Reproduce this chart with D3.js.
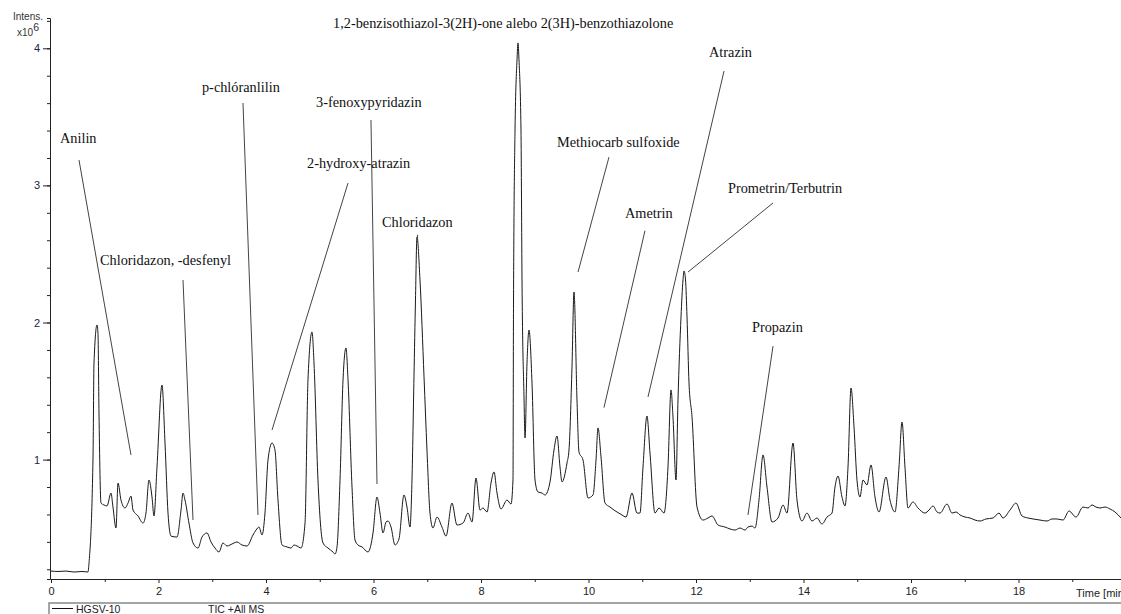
<!DOCTYPE html>
<html>
<head>
<meta charset="utf-8">
<script src="https://cdn.jsdelivr.net/npm/d3@7"></script>
<style>
body { margin: 0; background: #fff; }
svg { display: block; }
</style>
</head>
<body>
<svg id="chart" width="1121" height="614"></svg>
<script>
// TIC trace (time in min, intensity in 1e6)
const time = [
  0, 0.130, 0.279, 0.428, 0.577, 0.688, 0.707, 0.781, 0.800, 0.856, 0.874, 0.893, 0.930, 0.986, 1.042, 1.116, 1.153, 1.209, 1.247, 1.302,
  1.377, 1.433, 1.488, 1.526, 1.619, 1.712, 1.767, 1.823, 1.879, 1.916, 1.972, 2.065, 2.121, 2.177, 2.233, 2.344, 2.419, 2.456, 2.493, 2.567,
  2.642, 2.735, 2.809, 2.902, 2.977, 3.051, 3.126, 3.200, 3.274, 3.330, 3.405, 3.460, 3.553, 3.647, 3.758, 3.814, 3.870, 3.926, 3.981, 4.037,
  4.112, 4.167, 4.223, 4.298, 4.391, 4.465, 4.521, 4.577, 4.651, 4.726, 4.781, 4.856, 4.893, 4.967, 5.060, 5.153, 5.247, 5.284, 5.321, 5.377,
  5.433, 5.488, 5.526, 5.600, 5.656, 5.712, 5.786, 5.898, 5.991, 6.065, 6.121, 6.177, 6.233, 6.270, 6.326, 6.400, 6.474, 6.567, 6.623, 6.679,
  6.716, 6.753, 6.781, 6.809, 6.865, 6.940, 6.995, 7.051, 7.107, 7.181, 7.274, 7.349, 7.460, 7.553, 7.665, 7.758, 7.833, 7.907, 7.981, 8.037,
  8.112, 8.186, 8.242, 8.298, 8.372, 8.484, 8.558, 8.595, 8.605, 8.633, 8.670, 8.688, 8.707, 8.744, 8.763, 8.800, 8.819, 8.856, 8.893, 8.949,
  9.005, 9.060, 9.135, 9.191, 9.284, 9.358, 9.414, 9.470, 9.507, 9.600, 9.637, 9.693, 9.730, 9.786, 9.823, 9.898, 9.991, 10.084, 10.140, 10.177,
  10.233, 10.307, 10.400, 10.474, 10.530, 10.623, 10.698, 10.809, 10.902, 10.958, 11.014, 11.088, 11.144, 11.237, 11.312, 11.405, 11.479, 11.535, 11.572, 11.628,
  11.665, 11.721, 11.758, 11.777, 11.805, 11.833, 11.870, 11.926, 12.019, 12.130, 12.223, 12.298, 12.409, 12.540, 12.633, 12.726, 12.819, 12.912, 12.967, 13.042,
  13.098, 13.172, 13.247, 13.321, 13.414, 13.526, 13.619, 13.693, 13.805, 13.879, 13.972, 14.065, 14.158, 14.251, 14.344, 14.437, 14.530, 14.586, 14.642, 14.716,
  14.772, 14.828, 14.884, 14.940, 14.995, 15.051, 15.107, 15.181, 15.256, 15.330, 15.405, 15.535, 15.609, 15.702, 15.777, 15.833, 15.888, 15.944, 16.037, 16.130,
  16.260, 16.335, 16.409, 16.484, 16.540, 16.670, 16.763, 16.837, 16.912, 17.005, 17.098, 17.191, 17.284, 17.395, 17.526, 17.637, 17.712, 17.842, 17.953, 18.065,
  18.177, 18.270, 18.400, 18.530, 18.623, 18.716, 18.828, 18.940, 19.070, 19.200, 19.293, 19.367, 19.442, 19.516, 19.609, 19.702, 19.795, 19.907
];
const intens = [
  0.187, 0.184, 0.187, 0.180, 0.184, 0.180, 0.244, 0.997, 1.705, 1.982, 1.923, 1.340, 0.683, 0.669, 0.662, 0.756, 0.654, 0.501, 0.829, 0.705,
  0.647, 0.683, 0.734, 0.632, 0.589, 0.537, 0.610, 0.851, 0.727, 0.589, 0.946, 1.544, 1.121, 0.610, 0.442, 0.435, 0.632, 0.756, 0.705, 0.537,
  0.392, 0.355, 0.435, 0.465, 0.399, 0.355, 0.326, 0.392, 0.370, 0.377, 0.392, 0.399, 0.377, 0.370, 0.450, 0.486, 0.508, 0.450, 0.610, 0.997,
  1.121, 1.070, 0.705, 0.377, 0.363, 0.355, 0.377, 0.370, 0.355, 0.537, 1.581, 1.931, 1.705, 0.851, 0.392, 0.355, 0.326, 0.311, 0.363, 0.851,
  1.581, 1.814, 1.581, 0.800, 0.414, 0.377, 0.363, 0.326, 0.465, 0.727, 0.610, 0.465, 0.545, 0.552, 0.508, 0.377, 0.421, 0.742, 0.654, 0.508,
  0.851, 1.603, 2.164, 2.624, 2.310, 1.603, 1.070, 0.610, 0.501, 0.581, 0.508, 0.442, 0.683, 0.523, 0.537, 0.610, 0.545, 0.866, 0.632, 0.647,
  0.618, 0.829, 0.910, 0.756, 0.640, 0.705, 0.676, 0.851, 2.164, 3.404, 3.915, 4.039, 3.915, 3.404, 2.310, 1.457, 1.158, 1.705, 1.945, 1.559,
  0.851, 0.764, 0.756, 0.742, 0.837, 1.070, 1.172, 0.946, 0.837, 0.975, 1.070, 1.676, 2.222, 1.435, 1.055, 0.997, 0.720, 0.742, 0.997, 1.231,
  1.019, 0.683, 0.654, 0.632, 0.618, 0.596, 0.581, 0.756, 0.610, 0.610, 0.946, 1.318, 1.048, 0.610, 0.647, 0.610, 0.946, 1.508, 1.311, 0.851,
  1.435, 2.040, 2.310, 2.376, 2.310, 2.040, 1.559, 1.311, 0.654, 0.559, 0.574, 0.589, 0.523, 0.508, 0.494, 0.486, 0.501, 0.486, 0.508, 0.515,
  0.501, 0.705, 1.034, 0.800, 0.545, 0.574, 0.669, 0.610, 1.121, 0.705, 0.552, 0.610, 0.552, 0.574, 0.530, 0.581, 0.610, 0.800, 0.880, 0.727,
  0.662, 0.946, 1.522, 1.238, 0.851, 0.727, 0.851, 0.815, 0.961, 0.727, 0.618, 0.873, 0.705, 0.618, 0.946, 1.274, 0.946, 0.647, 0.691, 0.647,
  0.610, 0.632, 0.662, 0.618, 0.610, 0.676, 0.610, 0.618, 0.596, 0.581, 0.574, 0.559, 0.552, 0.567, 0.574, 0.610, 0.574, 0.632, 0.683, 0.589,
  0.574, 0.567, 0.559, 0.552, 0.567, 0.567, 0.559, 0.625, 0.581, 0.654, 0.647, 0.669, 0.654, 0.647, 0.654, 0.640, 0.618, 0.574
];

// axis ticks
const xMajor = [0, 2, 4, 6, 8, 10, 12, 14, 16, 18];
const xMinor = [1, 3, 5, 7, 9, 11, 13, 15, 17, 19];
const yMajor = [1, 2, 3, 4];
const yMinor = d3.range(0.2, 4.3, 0.2);

// peak annotations: text, where the text starts, leader line start / end
const peakNames = [
  "Anilin", "Chloridazon, -desfenyl", "p-chlóranlilin", "3-fenoxypyridazin", "2-hydroxy-atrazin", "Chloridazon",
  "1,2-benzisothiazol-3(2H)-one alebo 2(3H)-benzothiazolone", "Methiocarb sulfoxide", "Ametrin", "Atrazin",
  "Prometrin/Terbutrin", "Propazin"
];
const nameAt = [
  [0.167, 3.309], [0.912, 2.419], [2.809, 3.681], [4.930, 3.572], [4.763, 3.127], [6.158, 2.696],
  [5.247, 4.145], [9.414, 3.280], [10.679, 2.762], [12.242, 3.936], [12.595, 2.945], [13.042, 1.931]
];
const leaders = [
  [0.521, 3.185, 1.488, 1.034], [2.456, 2.310, 2.642, 0.559], [3.572, 3.601, 3.851, 0.596],
  [5.953, 3.477, 6.065, 0.822], [5.526, 3.017, 4.112, 1.216], [6.820, 2.640, 6.820, 2.600],
  null, [10.381, 3.206, 9.805, 2.368], [11.051, 2.670, 10.288, 1.379], [12.521, 3.834, 11.107, 1.457],
  [13.433, 2.872, 11.851, 2.368], [13.433, 1.828, 12.967, 0.596]
];

const svg = d3.select("#chart");
const x = d3.scaleLinear().domain([0, 20]).range([51, 1126]);
const y = d3.scaleLinear().domain([0, 4]).range([596.7, 48.3]);

const axisBottom = 579, axisTop = 18;
const xAx = x.copy().domain([0, x.invert(1121)]).range([51, 1121]);
const yAx = y.copy().domain([y.invert(axisBottom), y.invert(axisTop)]).range([axisBottom, axisTop]);

const sans = "'Liberation Sans', Arial, sans-serif";

// y axis
svg.append("g")
  .attr("transform", "translate(50,0)")
  .call(d3.axisLeft(yAx).tickValues(yMinor).tickSize(3).tickFormat(""))
  .call(g => g.select(".domain").attr("stroke", "#222"));
svg.append("g")
  .attr("transform", "translate(50,0)")
  .call(d3.axisLeft(yAx).tickValues(yMajor).tickSize(7).tickSizeOuter(0).tickPadding(3).tickFormat(d3.format("d")))
  .call(g => g.select(".domain").remove())
  .call(g => g.selectAll("text").attr("font-family", sans).attr("font-size", 11).attr("fill", "#22224a"));

// x axis
svg.append("g")
  .attr("transform", `translate(0,${axisBottom})`)
  .call(d3.axisBottom(xAx).tickValues(xMinor).tickSize(3).tickSizeOuter(0).tickFormat(""))
  .call(g => g.select(".domain").attr("stroke", "#222").attr("stroke-width", 1.2));
svg.append("g")
  .attr("transform", `translate(0,${axisBottom})`)
  .call(d3.axisBottom(xAx).tickValues(xMajor).tickSize(4).tickPadding(4).tickFormat(d3.format("d")))
  .call(g => g.select(".domain").remove())
  .call(g => g.selectAll("text").attr("font-family", sans).attr("font-size", 11).attr("fill", "#222"));

svg.selectAll(".tick line").attr("stroke", "#222");

// axis titles
const yTitle = svg.append("g").attr("font-family", sans).attr("font-size", 10).attr("fill", "#333");
yTitle.append("text").attr("x", 43).attr("y", 20).attr("text-anchor", "end").text("Intens.");
const mag = yTitle.append("text").attr("x", 17).attr("y", 36);
mag.append("tspan").text("x10");
mag.append("tspan").attr("dy", -5).attr("font-size", 10.5).text("6");

svg.append("text")
  .attr("x", 1076).attr("y", 597)
  .attr("font-family", sans).attr("font-size", 11).attr("fill", "#222")
  .text("Time [min]");

// trace
const line = d3.line()
  .x((d, i) => x(time[i]))
  .y(d => y(d))
  .curve(d3.curveMonotoneX);
svg.append("path")
  .datum(intens)
  .attr("d", line)
  .attr("fill", "none")
  .attr("stroke", "#1a1a1a")
  .attr("stroke-width", 1)
  .attr("stroke-linejoin", "round");

// annotations
const notes = svg.append("g");
leaders.forEach(l => {
  if (!l) return;
  notes.append("line")
    .attr("x1", x(l[0])).attr("y1", y(l[1]))
    .attr("x2", x(l[2])).attr("y2", y(l[3]))
    .attr("stroke", "#444").attr("stroke-width", 1);
});
notes.selectAll("text")
  .data(peakNames).enter()
  .append("text")
  .attr("x", (d, i) => x(nameAt[i][0]))
  .attr("y", (d, i) => y(nameAt[i][1]))
  .attr("font-family", "'Liberation Serif', 'Times New Roman', serif")
  .attr("font-size", 14.3)
  .attr("fill", "#111")
  .text(d => d);

// legend strip
const leg = svg.append("g");
leg.append("path")
  .attr("d", "M49,614V603H1121")
  .attr("fill", "none").attr("stroke", "#888").attr("stroke-width", 1.5);
leg.append("line").attr("x1", 52).attr("x2", 73).attr("y1", 608.5).attr("y2", 608.5)
  .attr("stroke", "#111").attr("stroke-width", 1);
leg.append("text").attr("x", 76).attr("y", 612.5)
  .attr("font-family", sans).attr("font-size", 10.5).attr("fill", "#222").text("HGSV-10");
leg.append("text").attr("x", 208).attr("y", 612.5)
  .attr("font-family", sans).attr("font-size", 10.5).attr("fill", "#222").text("TIC +All MS");
</script>
</body>
</html>
